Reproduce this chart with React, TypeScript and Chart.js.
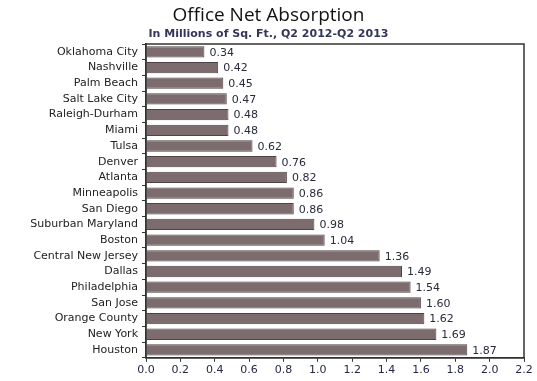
import React, { useEffect, useRef } from "react";
import { Chart, registerables } from "chart.js";

Chart.register(...registerables);

const cities = [
  "Oklahoma City", "Nashville", "Palm Beach", "Salt Lake City", "Raleigh-Durham",
  "Miami", "Tulsa", "Denver", "Atlanta", "Minneapolis", "San Diego",
  "Suburban Maryland", "Boston", "Central New Jersey", "Dallas", "Philadelphia",
  "San Jose", "Orange County", "New York", "Houston",
];

const absorption = [
  0.34, 0.42, 0.45, 0.47, 0.48, 0.48, 0.62, 0.76, 0.82, 0.86, 0.86,
  0.98, 1.04, 1.36, 1.49, 1.54, 1.6, 1.62, 1.69, 1.87,
];

const titleText = "Office Net Absorption";
const subtitleText = "In Millions of Sq. Ft., Q2 2012-Q2 2013";

const labelFont = "DejaVu Sans";

// Writes each bar's value just past its end and frames the plot area.
const valueLabels = {
  id: "valueLabels",
  afterDatasetsDraw(chart: any) {
    const { ctx, chartArea } = chart;
    ctx.save();
    ctx.strokeStyle = "#333";
    ctx.lineWidth = 1.5;
    ctx.strokeRect(chartArea.left, chartArea.top, chartArea.right - chartArea.left, chartArea.bottom - chartArea.top);
    const meta = chart.getDatasetMeta(0);
    ctx.font = `11px "${labelFont}"`;
    ctx.fillStyle = "#2a2a3a";
    ctx.textAlign = "left";
    ctx.textBaseline = "middle";
    meta.data.forEach((bar: any, i: number) => {
      ctx.fillText(absorption[i].toFixed(2), bar.x + 5, bar.y + 1);
    });
    ctx.restore();
  },
};

export default function App() {
  const ref = useRef<HTMLCanvasElement>(null);

  useEffect(() => {
    if (!ref.current) return;
    const chart = new Chart(ref.current, {
      type: "bar",
      data: {
        labels: cities,
        datasets: [
          {
            data: absorption,
            backgroundColor: "#7d6c6d",
            borderColor: "#4e4244",
            borderWidth: 1,
            barPercentage: 0.72,
            categoryPercentage: 1,
          },
        ],
      },
      options: {
        indexAxis: "y",
        animation: false,
        responsive: false,
        layout: { padding: { left: 13, right: 13, top: 2, bottom: 2 } },
        plugins: {
          legend: { display: false },
          tooltip: { enabled: false },
          title: {
            display: true,
            text: titleText,
            color: "#111",
            font: { family: "Open Sans", size: 19, weight: "normal" },
            padding: { top: 2, bottom: 0 },
          },
          subtitle: {
            display: true,
            text: subtitleText,
            color: "#34345a",
            font: { family: labelFont, size: 11, weight: "bold" },
            padding: { top: 1, bottom: 3 },
          },
        },
        scales: {
          x: {
            min: 0,
            max: 2.2,
            ticks: {
              stepSize: 0.2,
              color: "#26264a",
              font: { family: labelFont, size: 11 },
              callback: (v: any) => Number(v).toFixed(1),
              padding: 2,
            },
            grid: { drawOnChartArea: false, color: "#333", tickLength: 4 },
            border: { color: "#333", width: 1.5 },
          },
          y: {
            ticks: {
              color: "#222",
              font: { family: labelFont, size: 11 },
              padding: 4,
              autoSkip: false,
            },
            grid: { drawOnChartArea: false, color: "#333", tickLength: 4 },
            border: { color: "#333", width: 1.5 },
            afterFit: (scale: any) => {
              scale.width = 133;
            },
          },
        },
      },
      plugins: [valueLabels],
    });
    return () => chart.destroy();
  }, []);

  return (
    <div style={{ position: "fixed", left: 0, top: 0, width: 537, height: 381, background: "#fff" }}>
      <canvas ref={ref} width={537} height={381} />
    </div>
  );
}
